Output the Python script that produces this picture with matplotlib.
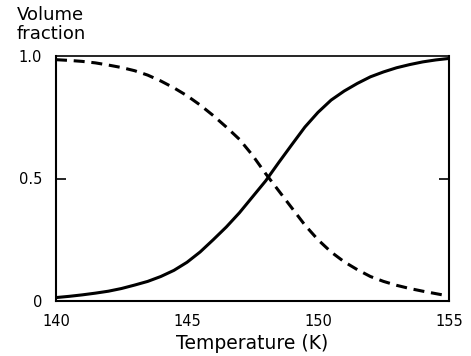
import numpy as np
import matplotlib
matplotlib.use("Agg")
import matplotlib.pyplot as plt

# temperature (K) and volume fractions
temperature = [140, 140.5, 141, 141.5, 142, 142.5, 143, 143.5, 144, 144.5,
               145, 145.5, 146, 146.5, 147, 147.5, 148, 148.5, 149, 149.5,
               150, 150.5, 151, 151.5, 152, 152.5, 153, 153.5, 154, 154.5, 155]
solid_frac = [0.014, 0.019, 0.025, 0.032, 0.040, 0.051, 0.065, 0.080, 0.100, 0.125,
              0.158, 0.200, 0.250, 0.302, 0.360, 0.425, 0.490, 0.565, 0.638, 0.710,
              0.770, 0.820, 0.857, 0.888, 0.915, 0.935, 0.952, 0.965, 0.976, 0.984, 0.990]
dashed_frac = [0.985, 0.982, 0.978, 0.972, 0.963, 0.953, 0.940, 0.922, 0.898, 0.870,
               0.838, 0.800, 0.757, 0.710, 0.660, 0.595, 0.520, 0.450, 0.380, 0.310,
               0.250, 0.200, 0.160, 0.128, 0.100, 0.080, 0.064, 0.051, 0.040, 0.030, 0.020]

x_ticks = [140, 145, 150, 155]
x_tick_labels = ['140', '145', '150', '155']
y_ticks = [0, 0.5, 1.0]
y_tick_labels = ['0', '0.5', '1.0']

plt.rcParams['font.family'] = ['DejaVu Sans']

fig = plt.figure(figsize=(4.71, 3.56), dpi=100)
ax = fig.add_axes([56/471, 1 - 301/356, 393/471, 245/356])

ax.plot(temperature, solid_frac, '-', color='black', lw=2.2)
ax.plot(temperature, dashed_frac, '--', color='black', lw=2.2, dashes=(3.6, 2.2))

ax.set_xlim(140, 155)
ax.set_ylim(0, 1.0)

for s in ax.spines.values():
    s.set_linewidth(1.5)
ax.spines['top'].set_linewidth(1.2)

ax.set_xticks(x_ticks)
ax.set_xticklabels(x_tick_labels, fontsize=10.5)
ax.tick_params(axis='x', length=0, pad=9)

ax.set_yticks(y_ticks)
ax.set_yticklabels(y_tick_labels, fontsize=10.5)
ax.tick_params(axis='y', direction='in', length=7, width=1.2, pad=10,
               left=True, right=True)
# only the 0.5 tick has a visible mark
for t, v in zip(ax.yaxis.get_major_ticks(), y_ticks):
    if v != 0.5:
        t.tick1line.set_visible(False)
        t.tick2line.set_visible(False)

ax.set_xlabel('Temperature (K)', fontsize=13.5, labelpad=4)
fig.text(17/471, 1 - 6/356, 'Volume\nfraction', fontsize=13, ha='left', va='top',
         linespacing=1.05)

fig.savefig('out.png', dpi=100)
